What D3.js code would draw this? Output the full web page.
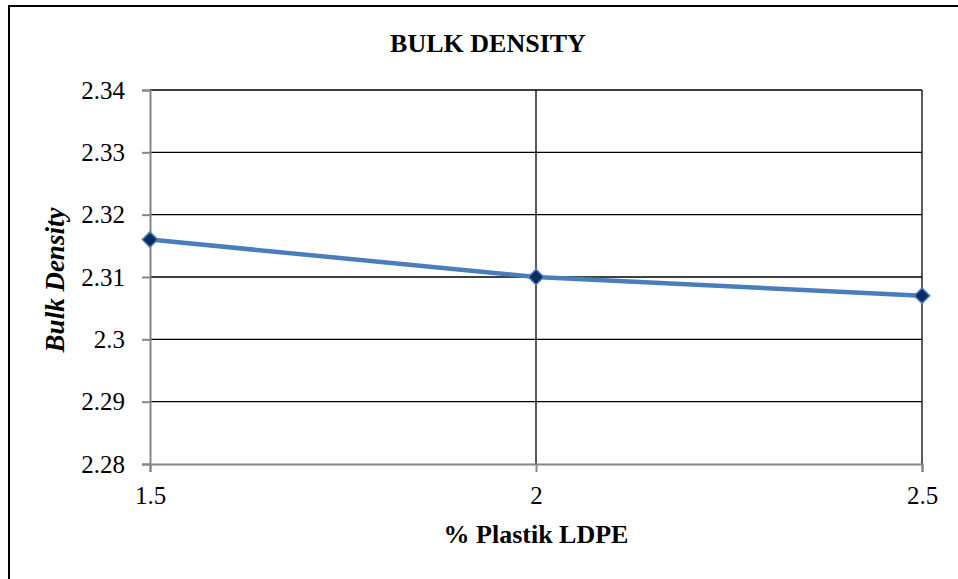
<!DOCTYPE html>
<html>
<head>
<meta charset="utf-8">
<script src="https://cdn.jsdelivr.net/npm/d3@7/dist/d3.min.js"></script>
<style>
  html, body { margin: 0; padding: 0; background: #fff; }
  svg { display: block; font-family: "Liberation Serif", "Times New Roman", serif; }
</style>
</head>
<body>
<svg id="chart" width="958" height="579"></svg>
<script>
// Bulk density against LDPE plastic content
const plasticPct = [1.5, 2, 2.5];
const bulkDensity = [2.316, 2.310, 2.307];
const xTicks = [1.5, 2, 2.5];
const yTicks = [2.28, 2.29, 2.30, 2.31, 2.32, 2.33, 2.34];

const svg = d3.select("#chart");
const W = 958, H = 579;
const serif = "Liberation Serif, Times New Roman, serif";

// outer frame
svg.append("rect")
  .attr("x", 9).attr("y", 6)
  .attr("width", W + 10).attr("height", H + 10)
  .attr("fill", "#fff").attr("stroke", "#000").attr("stroke-width", 2);

const plot = { left: 150, right: 922, top: 90, bottom: 464 };

const x = d3.scaleLinear().domain([1.5, 2.5]).range([plot.left, plot.right]);
const y = d3.scaleLinear().domain([2.28, 2.34]).range([plot.bottom, plot.top]);

// horizontal gridlines
svg.append("g")
  .selectAll("line").data(yTicks.slice(1))
  .join("line")
  .attr("x1", plot.left).attr("x2", plot.right)
  .attr("y1", d => y(d)).attr("y2", d => y(d))
  .attr("stroke", "#000").attr("stroke-width", 1.3);

// vertical gridlines
svg.append("g")
  .selectAll("line").data(xTicks.slice(1))
  .join("line")
  .attr("x1", d => x(d)).attr("x2", d => x(d))
  .attr("y1", plot.top).attr("y2", plot.bottom)
  .attr("stroke", "#000").attr("stroke-width", 1.3);

// y axis
const yAxis = svg.append("g")
  .attr("transform", `translate(${plot.left},0)`)
  .call(d3.axisLeft(y).tickValues(yTicks).tickSize(8).tickPadding(17)
    .tickFormat(d => String(+d.toFixed(2))));
yAxis.attr("font-family", serif).attr("font-size", 25);
yAxis.select(".domain").attr("stroke", "#868686").attr("stroke-width", 2);
yAxis.selectAll(".tick line").attr("stroke", "#868686").attr("stroke-width", 2);
yAxis.selectAll(".tick text").attr("fill", "#000");

// x axis
const xAxis = svg.append("g")
  .attr("transform", `translate(0,${plot.bottom})`)
  .call(d3.axisBottom(x).tickValues(xTicks).tickSize(8).tickPadding(14)
    .tickFormat(d => String(d)));
xAxis.attr("font-family", serif).attr("font-size", 25);
xAxis.select(".domain").attr("stroke", "#868686").attr("stroke-width", 2);
xAxis.selectAll(".tick line").attr("stroke", "#868686").attr("stroke-width", 2);
xAxis.selectAll(".tick text").attr("fill", "#000");

// series line
const pts = plasticPct.map((p, i) => [p, bulkDensity[i]]);
svg.append("path")
  .datum(pts)
  .attr("fill", "none")
  .attr("stroke", "#4a7ebb")
  .attr("stroke-width", 4.5)
  .attr("d", d3.line().x(d => x(d[0])).y(d => y(d[1])));

// diamond markers
svg.append("g")
  .selectAll("path").data(pts)
  .join("path")
  .attr("transform", d => `translate(${x(d[0])},${y(d[1])})`)
  .attr("d", d3.symbol().type(d3.symbolDiamond2).size(150))
  .attr("fill", "#0e2a63")
  .attr("stroke", "#4a7ebb")
  .attr("stroke-width", 1.5);

// titles
svg.append("text")
  .attr("x", 488).attr("y", 52)
  .attr("text-anchor", "middle")
  .attr("font-family", serif)
  .attr("font-size", 26).attr("font-weight", "bold")
  .text("BULK DENSITY");

svg.append("text")
  .attr("x", 536).attr("y", 543)
  .attr("text-anchor", "middle")
  .attr("font-family", serif)
  .attr("font-size", 26).attr("font-weight", "bold")
  .text("% Plastik LDPE");

svg.append("text")
  .attr("transform", `translate(64,280) rotate(-90)`)
  .attr("text-anchor", "middle")
  .attr("font-family", serif)
  .attr("font-size", 27).attr("font-weight", "bold").attr("font-style", "italic")
  .text("Bulk Density");
</script>
</body>
</html>
